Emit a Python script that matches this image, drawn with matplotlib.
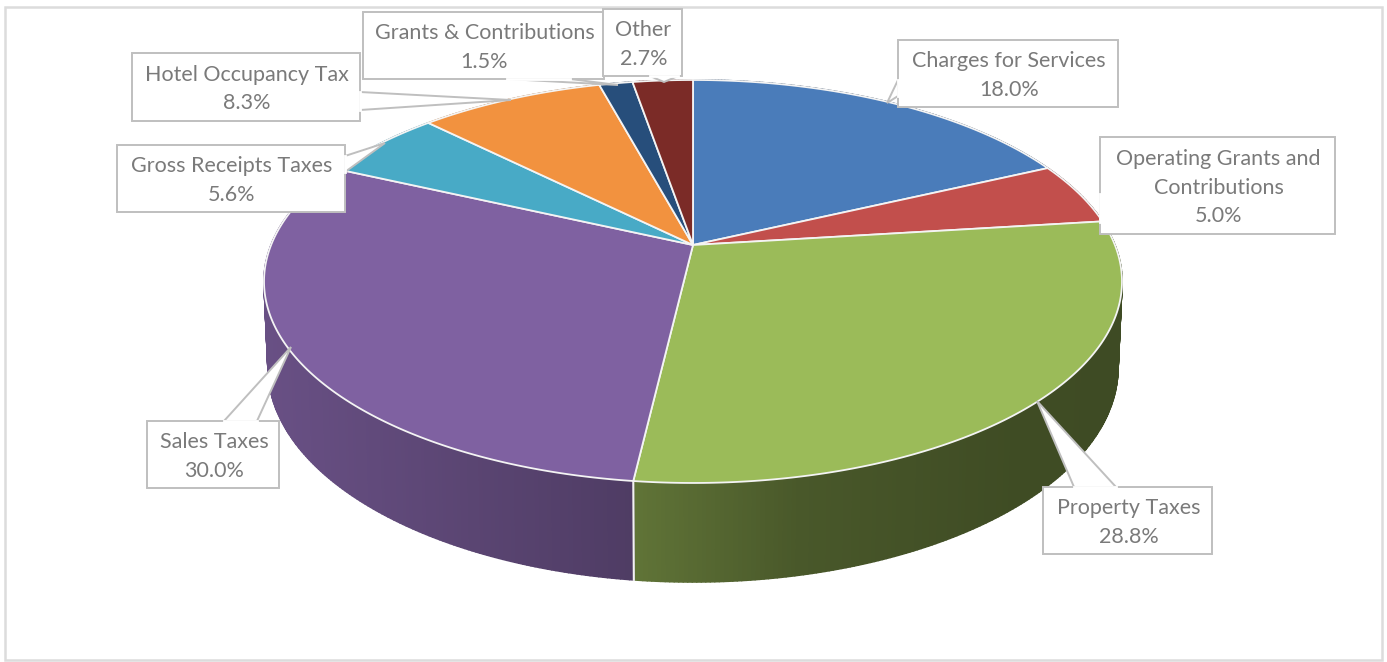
import numpy as np
import matplotlib
matplotlib.use("Agg")
import matplotlib.pyplot as plt
from matplotlib.collections import PolyCollection
from matplotlib.colors import to_rgb
from matplotlib.patches import Polygon, Rectangle

categories = ["Charges for Services", "Operating Grants and\nContributions", "Property Taxes",
              "Sales Taxes", "Gross Receipts Taxes", "Hotel Occupancy Tax",
              "Grants & Contributions", "Other"]
shares = [18.0, 5.0, 28.8, 30.0, 5.6, 8.3, 1.5, 2.7]
colors = ["#4a7cba", "#c24f4c", "#9bbb59", "#7f61a1", "#48aac6", "#f2923f", "#274e7b", "#7b2b27"]

# label boxes in pixels: left, top, right, bottom
boxes = [(898, 40, 1118, 107), (1100, 137, 1335, 234), (1043, 487, 1212, 554),
         (147, 421, 279, 488), (117, 145, 345, 212), (132, 53, 360, 121),
         (363, 12, 604, 79), (603, 9, 682, 76)]
# leader of each box: first base point, tip, second base point
leaders = [((898, 96), (887, 103), (898, 80)), ((1100, 222), (1100, 222), (1100, 194)),
           ((1116, 487), (1037, 401), (1074, 487)), ((224, 421), (291, 347), (257, 421)),
           ((345, 172), (385, 143), (345, 156)), ((360, 92), (511, 100), (360, 110)),
           ((507, 79), (618, 85), (570, 79)), ((650, 76), (664, 82), (678, 76))]

# pie geometry in pixels
APEX = (693, 245)
TOP = (693, 281, 429, 202)    # cx, cy, rx, ry of the top face
BASE = (693, 367, 425, 215)   # same for the lower edge of the wall
C = 0.181
A = 194.9
B = 421.9


def rim(angle):
    # clockwise from twelve o'clock, seen in perspective
    u, v = np.sin(angle), np.cos(angle)
    d = 1 + C * v
    return APEX[0] + B * u / d, APEX[1] - A * v / d


def to_base(x, y):
    c = (x - TOP[0]) / TOP[2]
    s = (y - TOP[1]) / TOP[3]
    return BASE[0] + BASE[2] * c, BASE[1] + BASE[3] * s


def shade(x):
    return np.interp(x, [270, 634, 800, 1000, 1120], [0.82, 0.62, 0.47, 0.41, 0.40])


plt.rcParams['font.family'] = ['Lato', 'DejaVu Sans']
fig = plt.figure(figsize=(13.87, 6.62), dpi=100)
ax = fig.add_axes([0, 0, 1, 1])
ax.set_xlim(0, 1387)
ax.set_ylim(662, 0)
ax.axis("off")

ax.add_patch(Rectangle((5, 7), 1376.5, 653, fill=False, edgecolor="#dcdcdc", lw=1.8))

edges = np.cumsum([0] + shares) / sum(shares) * 2 * np.pi

# walls first, the top face covers what is hidden
for i in range(len(shares)):
    angles = np.linspace(edges[i], edges[i + 1], max(int(np.degrees(edges[i + 1] - edges[i])) * 2, 2))
    xs, ys = rim(angles)
    bx, by = to_base(xs, ys)
    quads = []
    quad_colors = []
    for j in range(len(angles) - 1):
        quads.append([(xs[j], ys[j]), (xs[j + 1], ys[j + 1]), (bx[j + 1], by[j + 1]), (bx[j], by[j])])
        quad_colors.append(tuple(np.array(to_rgb(colors[i])) * shade((xs[j] + xs[j + 1]) / 2)))
    ax.add_collection(PolyCollection(quads, facecolors=quad_colors, edgecolors="face", linewidths=1.2, zorder=2))

# white seam between the two front walls
seam_x, seam_y = rim(edges[3])
seam_bx, seam_by = to_base(seam_x, seam_y)
ax.plot([seam_x, seam_bx], [seam_y, seam_by], color="#f2f2f2", lw=1.5, zorder=3)

# top face
for i in range(len(shares)):
    angles = np.linspace(edges[i], edges[i + 1], 200)
    xs, ys = rim(angles)
    pts = np.column_stack([np.r_[APEX[0], xs], np.r_[APEX[1], ys]])
    ax.add_patch(Polygon(pts, closed=True, facecolor=colors[i], edgecolor="#f4f4f4", lw=1.3,
                         joinstyle="round", zorder=4))

# callouts
for i in range(len(categories)):
    l, t, r, b = boxes[i]
    p1, tip, p2 = leaders[i]
    ax.add_patch(Polygon([p1, tip, p2], closed=True, facecolor="white", edgecolor="#bfbfbf", lw=1.4, zorder=5))
    ax.add_patch(Rectangle((l, t), r - l, b - t, facecolor="white", edgecolor="#bfbfbf", lw=1.4, zorder=5))
    # hide the box edge where the leader joins it
    ax.plot([p1[0], p2[0]], [p1[1], p2[1]], color="white", lw=2.0, zorder=5)
    ax.text((l + r) / 2 + 1, (t + b) / 2 + 2, f"{categories[i]}\n{shares[i]:.1f}%", ha="center", va="center",
            fontsize=15.5, color="#7a7a7a", linespacing=1.55, zorder=6)

fig.savefig("out.png", dpi=100)
